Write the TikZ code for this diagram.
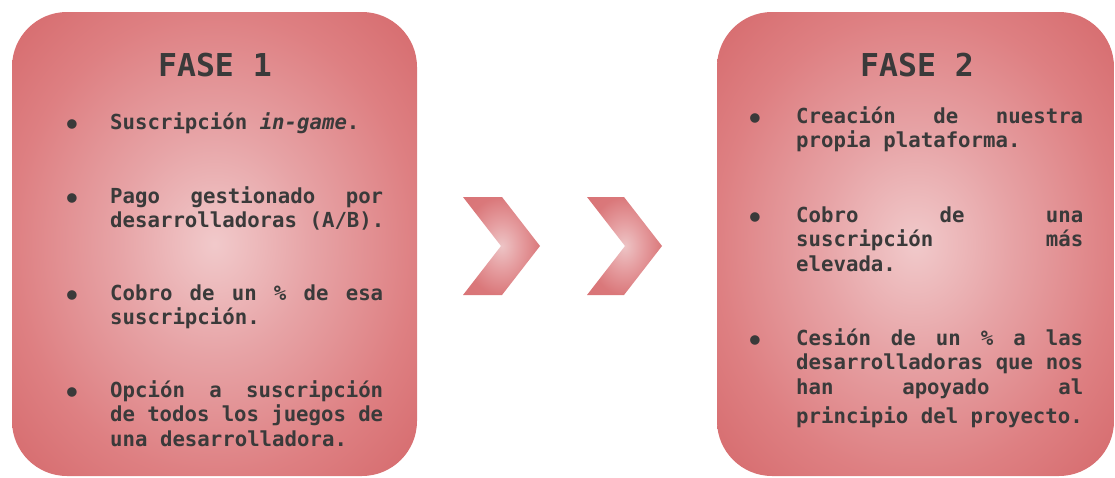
\documentclass[tikz,border=0pt]{standalone}
\usepackage{fontspec}
\newfontfamily\monob{DejaVu Sans Mono Bold}[ItalicFont=DejaVu Sans Mono Bold Oblique]
\definecolor{ink}{HTML}{3A3A3A}
\pgfdeclareradialshading{boxglow}{\pgfpoint{0bp}{0bp}}{rgb(0bp)=(0.945,0.790,0.795); rgb(12bp)=(0.905,0.640,0.650); rgb(25bp)=(0.870,0.500,0.510); rgb(36bp)=(0.835,0.410,0.420); rgb(50bp)=(0.835,0.410,0.420)}
\pgfdeclareradialshading{chevglow}{\pgfpoint{0bp}{0bp}}{rgb(0bp)=(0.930,0.770,0.775); rgb(12bp)=(0.900,0.620,0.630); rgb(25bp)=(0.855,0.470,0.480); rgb(50bp)=(0.840,0.430,0.440)}
\newcommand\itemlines[1]{\vtop{\baselineskip=24.8pt\lineskiplimit=-30pt #1}}
\begin{document}
\begin{tikzpicture}[x=1pt,y=-1pt,
  panel/.style={shading=boxglow, rounded corners=55pt},
  chev/.style={shading=chevglow},
  titletext/.style={anchor=base, inner sep=0pt, text=ink, font=\monob\fontsize{31.5}{36}\selectfont},
  itemtext/.style={anchor=base west, inner sep=0pt, text=ink, font=\monob\fontsize{20.7}{24.8}\selectfont},
  bul/.style={anchor=center, yshift=-4.5pt, inner sep=0pt, text=ink, font=\monob\fontsize{27}{30}\selectfont}]
\useasboundingbox (0,0) rectangle (1115,477);
% panels
\shade[panel] (12,12) rectangle (417,476);
\shade[panel] (717,12) rectangle (1114,476);
% chevrons
\shade[chev] (463,197) -- (502,197) -- (540,246) -- (502,295) -- (463,295) -- (501,246) -- cycle;
\shade[chev] (587,197) -- (624,197) -- (662,246) -- (624,295) -- (587,295) -- (625,246) -- cycle;
% titles
\node[titletext] (t1) at (215,76) {FASE 1};
\node[titletext] (t2) at (917,76) {FASE 2};
% phase 1
\node[bul] (b11) at (72,122.5) {•};
\node[itemtext] (i11) at (110,129) {\itemlines{\hbox{Suscripción {\itshape in-game}.}}};
\node[bul] (b12) at (72,196.5) {•};
\node[itemtext] (i12) at (110,203) {\itemlines{\hbox to 273pt{Pago\hfill gestionado\hfill por}\hbox{desarrolladoras (A/B).}}};
\node[bul] (b13) at (72,293.5) {•};
\node[itemtext] (i13) at (110,300) {\itemlines{\hbox to 273pt{Cobro\hfill de\hfill un\hfill \%\hfill de\hfill esa}\hbox{suscripción.}}};
\node[bul] (b14) at (72,390.5) {•};
\node[itemtext] (i14) at (110,397) {\itemlines{\hbox to 273pt{Opción\hfill a\hfill suscripción}\hbox to 273pt{de\hfill todos\hfill los\hfill juegos\hfill de}\hbox{una desarrolladora.}}};
% phase 2
\node[bul] (b21) at (755,116.5) {•};
\node[itemtext] (i21) at (796,123) {\itemlines{\hbox to 287pt{Creación\hfill de\hfill nuestra}\hbox{propia plataforma.}}};
\node[bul] (b22) at (755,215.5) {•};
\node[itemtext] (i22) at (796,222) {\itemlines{\hbox to 287pt{Cobro\hfill de\hfill una}\hbox to 287pt{suscripción\hfill más}\hbox{elevada.}}};
\node[bul] (b23) at (755,338.5) {•};
\node[itemtext] (i23) at (796,345) {\itemlines{\hbox to 287pt{Cesión\hfill de\hfill un\hfill \%\hfill a\hfill las}\hbox to 287pt{desarrolladoras\hfill que\hfill nos}\hbox to 287pt{han\hfill apoyado\hfill al}\kern4pt\hbox{principio del proyecto.}}};
\end{tikzpicture}
\end{document}
